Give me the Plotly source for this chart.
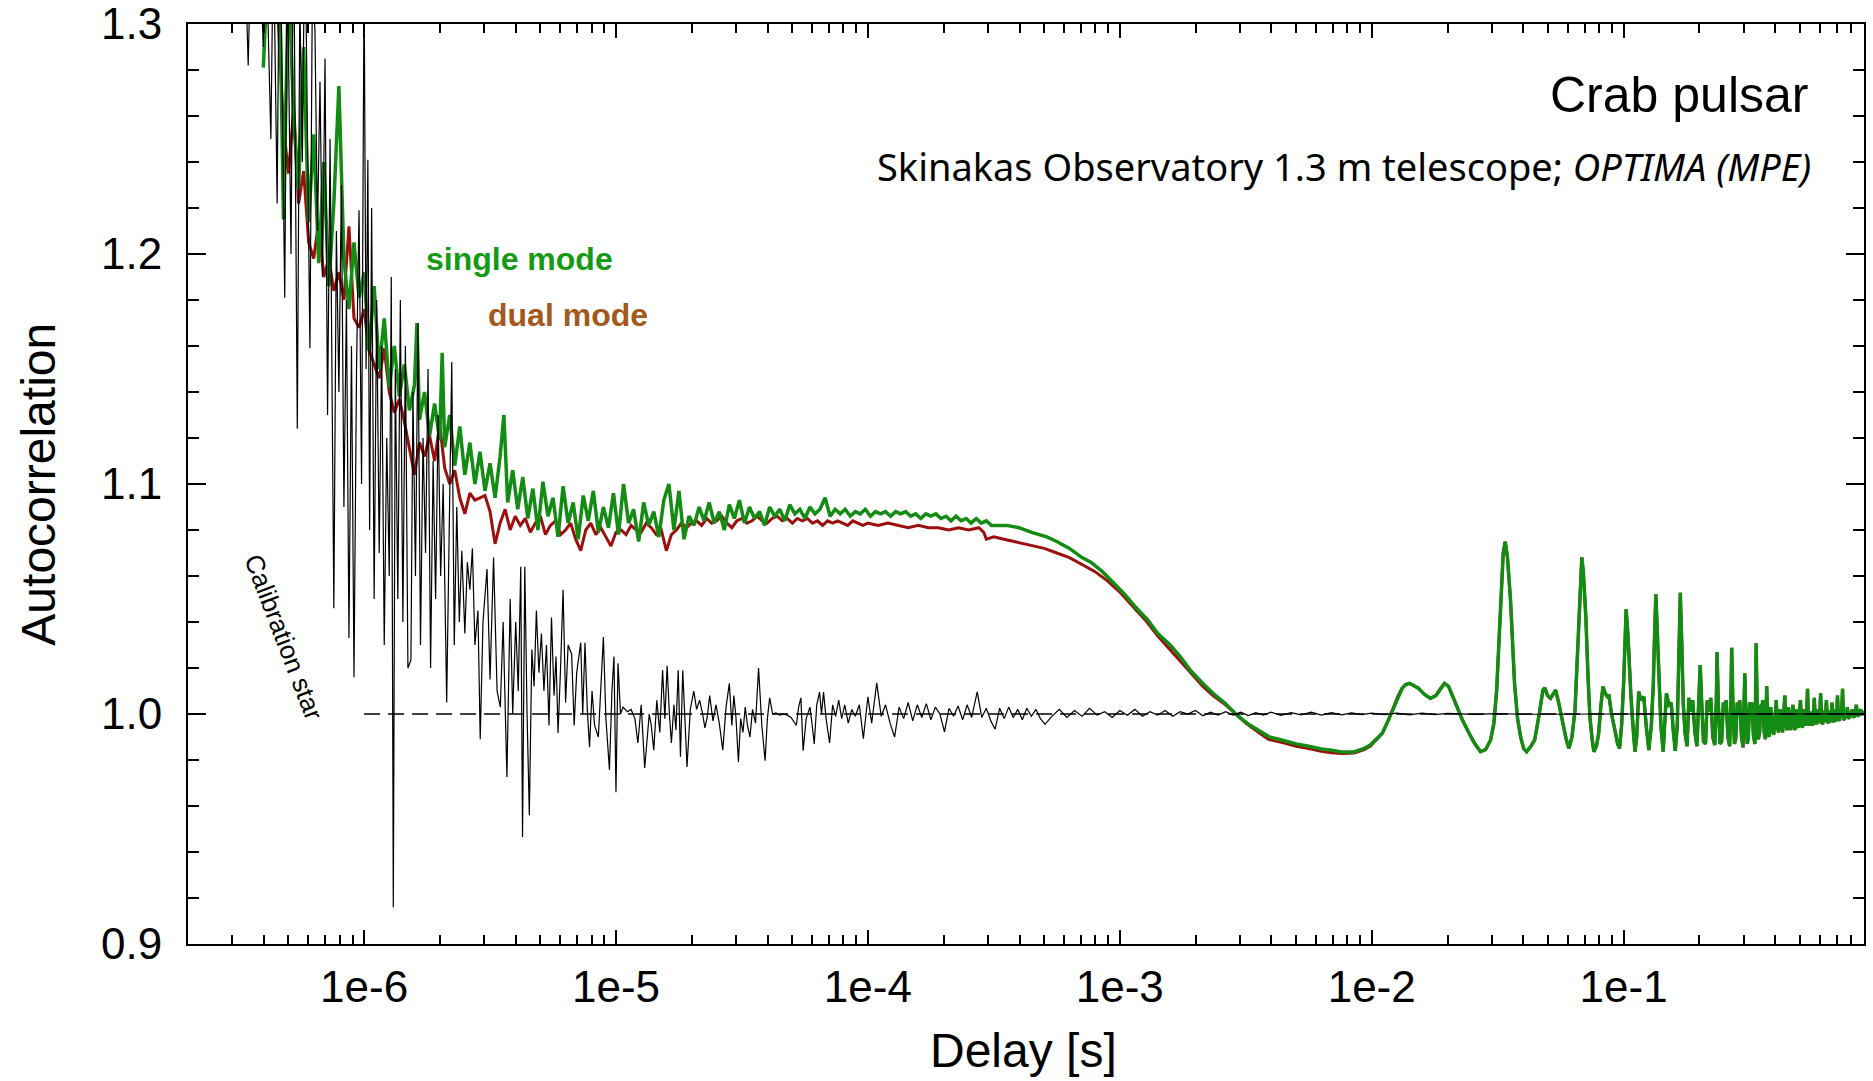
import math
import plotly.graph_objects as go

# ---------------- data: (log10 delay [s], autocorrelation) ----------------
CALIBRATION_STAR = [
    (-6.470, 1.320), (-6.460, 1.282), (-6.450, 1.330), (-6.420, 1.350), (-6.400, 1.290), (-6.390, 1.340),
    (-6.370, 1.250), (-6.360, 1.340), (-6.345, 1.222), (-6.335, 1.360), (-6.315, 1.181), (-6.305, 1.330),
    (-6.290, 1.200), (-6.280, 1.350), (-6.265, 1.124), (-6.255, 1.310), (-6.245, 1.240), (-6.235, 1.350),
    (-6.215, 1.159), (-6.205, 1.320), (-6.195, 1.297), (-6.185, 1.210), (-6.175, 1.275), (-6.165, 1.190),
    (-6.155, 1.285), (-6.145, 1.130), (-6.135, 1.250), (-6.120, 1.046), (-6.110, 1.210), (-6.100, 1.140),
    (-6.090, 1.230), (-6.080, 1.090), (-6.070, 1.180), (-6.060, 1.033), (-6.050, 1.160), (-6.040, 1.016),
    (-6.030, 1.150), (-6.020, 1.219), (-6.010, 1.100), (-6.000, 1.320), (-5.992, 1.150), (-5.985, 1.241),
    (-5.978, 1.080), (-5.970, 1.220), (-5.960, 1.050), (-5.950, 1.180), (-5.940, 1.070), (-5.930, 1.160),
    (-5.920, 1.030), (-5.910, 1.120), (-5.900, 1.060), (-5.892, 1.190), (-5.884, 0.916), (-5.876, 1.150),
    (-5.866, 1.050), (-5.856, 1.180), (-5.846, 1.040), (-5.836, 1.160), (-5.826, 1.020), (-5.814, 1.0235),
    (-5.806, 1.140), (-5.796, 1.060), (-5.786, 1.170), (-5.776, 1.030), (-5.766, 1.120), (-5.756, 1.070),
    (-5.746, 1.150), (-5.736, 1.020), (-5.726, 1.110), (-5.716, 1.050), (-5.706, 1.130), (-5.696, 1.060),
    (-5.686, 1.100), (-5.672, 1.005), (-5.662, 1.080), (-5.652, 1.153), (-5.642, 1.030), (-5.632, 1.090),
    (-5.622, 1.040), (-5.612, 1.071), (-5.600, 1.035), (-5.590, 1.066), (-5.580, 1.054), (-5.570, 1.072),
    (-5.560, 1.030), (-5.548, 1.045), (-5.539, 0.989), (-5.528, 1.040), (-5.512, 1.063), (-5.500, 1.015),
    (-5.486, 1.068), (-5.472, 1.010), (-5.459, 1.003), (-5.448, 1.040), (-5.433, 0.9726), (-5.420, 1.050),
    (-5.410, 1.000), (-5.398, 1.040), (-5.388, 1.010), (-5.378, 1.064), (-5.371, 0.9465), (-5.362, 1.064),
    (-5.353, 1.000), (-5.344, 0.956), (-5.334, 1.028), (-5.325, 1.012), (-5.316, 1.045), (-5.306, 1.018),
    (-5.296, 1.035), (-5.286, 1.010), (-5.276, 1.030), (-5.266, 0.995), (-5.256, 1.042), (-5.246, 1.008),
    (-5.238, 1.025), (-5.230, 0.9917), (-5.220, 1.020), (-5.210, 1.054), (-5.200, 1.005), (-5.190, 1.030),
    (-5.176, 1.026), (-5.166, 0.995), (-5.156, 1.018), (-5.140, 1.031), (-5.132, 1.000), (-5.123, 1.031),
    (-5.114, 1.002), (-5.105, 0.9856), (-5.095, 1.010), (-5.085, 0.995), (-5.070, 0.990), (-5.060, 1.015),
    (-5.050, 1.0335), (-5.040, 0.998), (-5.026, 0.9757), (-5.016, 1.010), (-5.008, 1.025), (-5.000, 0.966),
    (-4.992, 1.022), (-4.982, 1.000), (-4.972, 1.003), (-4.955, 1.001), (-4.940, 1.002), (-4.925, 0.998),
    (-4.913, 0.9874), (-4.900, 1.004), (-4.886, 0.9765), (-4.868, 1.000), (-4.860, 0.995), (-4.850, 0.9843),
    (-4.838, 1.006), (-4.826, 0.992), (-4.815, 1.0191), (-4.806, 0.998), (-4.797, 1.021), (-4.788, 1.000),
    (-4.780, 0.9874), (-4.770, 1.004), (-4.762, 0.993), (-4.753, 1.019), (-4.744, 0.9814), (-4.735, 1.019),
    (-4.727, 0.995), (-4.718, 0.977), (-4.705, 1.002), (-4.691, 1.010), (-4.680, 1.002), (-4.668, 1.006),
    (-4.656, 1.000), (-4.647, 0.994), (-4.638, 0.9985), (-4.628, 1.008), (-4.615, 0.997), (-4.603, 1.004),
    (-4.590, 0.996), (-4.576, 0.9843), (-4.563, 1.003), (-4.550, 1.0133), (-4.540, 0.995), (-4.532, 1.008),
    (-4.524, 0.999), (-4.514, 0.9791), (-4.505, 0.998), (-4.496, 0.992), (-4.487, 1.003), (-4.478, 0.995),
    (-4.468, 0.990), (-4.458, 1.002), (-4.446, 0.996), (-4.434, 1.020), (-4.421, 0.995), (-4.408, 0.9797),
    (-4.399, 0.998), (-4.390, 1.007), (-4.378, 1.000), (-4.365, 1.0005), (-4.350, 0.9995), (-4.335, 1.000),
    (-4.320, 0.9995), (-4.305, 0.9985), (-4.284, 0.995), (-4.275, 1.003), (-4.266, 1.007), (-4.257, 0.984),
    (-4.245, 0.998), (-4.230, 1.003), (-4.222, 0.996), (-4.213, 0.987), (-4.203, 1.004), (-4.192, 1.0095),
    (-4.184, 1.000), (-4.176, 1.0095), (-4.166, 0.998), (-4.152, 0.9874), (-4.140, 1.004), (-4.128, 0.999),
    (-4.116, 1.006), (-4.104, 0.998), (-4.092, 1.004), (-4.078, 0.996), (-4.064, 1.002), (-4.050, 0.999),
    (-4.034, 1.004), (-4.018, 0.9893), (-4.000, 1.0075), (-3.985, 0.9960), (-3.965, 1.0135), (-3.947, 0.9990),
    (-3.930, 1.0040), (-3.912, 0.9960), (-3.894, 0.9900), (-3.876, 1.0030), (-3.858, 0.9980), (-3.840, 1.0050),
    (-3.822, 0.9970), (-3.804, 1.0040), (-3.786, 0.9985), (-3.768, 1.0045), (-3.750, 0.9975), (-3.732, 1.0030),
    (-3.714, 1.0000), (-3.696, 0.9922), (-3.678, 1.0025), (-3.660, 0.9990), (-3.642, 1.0035), (-3.624, 0.9975),
    (-3.606, 1.0040), (-3.588, 0.9985), (-3.566, 1.0096), (-3.548, 0.9985), (-3.530, 1.0025), (-3.512, 0.9970),
    (-3.495, 0.9934), (-3.477, 1.0025), (-3.459, 0.9980), (-3.441, 1.0030), (-3.423, 0.9985), (-3.405, 1.0020),
    (-3.387, 0.9975), (-3.369, 1.0025), (-3.351, 0.9990), (-3.333, 1.0020), (-3.315, 0.9980), (-3.297, 0.9955),
    (-3.270, 0.9990), (-3.240, 1.0020), (-3.210, 0.9985), (-3.180, 1.0015), (-3.150, 0.9990), (-3.120, 1.0025),
    (-3.090, 0.9995), (-3.060, 1.0010), (-3.030, 0.9985), (-3.000, 1.0015), (-2.970, 0.9995), (-2.940, 1.0020),
    (-2.910, 0.9990), (-2.880, 1.0010), (-2.850, 0.9995), (-2.820, 1.0015), (-2.790, 0.9990), (-2.760, 1.0010),
    (-2.730, 1.0000), (-2.700, 1.0015), (-2.670, 0.9992), (-2.640, 1.0008), (-2.610, 0.9995), (-2.580, 1.0010),
    (-2.550, 0.9995), (-2.520, 1.0008), (-2.490, 0.9993), (-2.460, 1.0006), (-2.430, 0.9995), (-2.400, 1.0008),
    (-2.360, 0.9994), (-2.320, 1.0006), (-2.280, 0.9996), (-2.240, 1.0008), (-2.200, 0.9995), (-2.160, 1.0006),
    (-2.120, 0.9996), (-2.080, 1.0005), (-2.040, 0.9997), (-2.000, 1.0004), (-1.950, 0.9997), (-1.900, 1.0004),
    (-1.850, 0.9996), (-1.800, 1.0004), (-1.750, 0.9997), (-1.700, 1.0003), (-1.600, 0.9998), (-1.500, 1.0002),
    (-1.400, 0.9999), (-1.200, 1.0001), (-1.000, 1.0000), (-0.600, 1.0000), (-0.046, 1.0000),
]

SINGLE_MODE_EARLY = [
    (-6.400, 1.281), (-6.380, 1.330), (-6.360, 1.300), (-6.340, 1.350), (-6.320, 1.215), (-6.300, 1.320),
    (-6.280, 1.262), (-6.260, 1.228), (-6.240, 1.290), (-6.220, 1.214), (-6.200, 1.252), (-6.180, 1.196),
    (-6.160, 1.240), (-6.140, 1.186), (-6.120, 1.222), (-6.100, 1.273), (-6.080, 1.198), (-6.060, 1.176),
    (-6.040, 1.205), (-6.020, 1.181), (-6.000, 1.192), (-5.980, 1.158), (-5.960, 1.186), (-5.940, 1.150),
    (-5.920, 1.172), (-5.900, 1.142), (-5.880, 1.160), (-5.860, 1.138), (-5.840, 1.152), (-5.820, 1.132),
    (-5.800, 1.143), (-5.790, 1.170), (-5.780, 1.128), (-5.760, 1.140), (-5.740, 1.121), (-5.720, 1.135),
    (-5.700, 1.119), (-5.690, 1.157), (-5.680, 1.116), (-5.660, 1.130), (-5.640, 1.108), (-5.620, 1.125),
    (-5.600, 1.104), (-5.580, 1.118), (-5.560, 1.100), (-5.540, 1.114), (-5.520, 1.097), (-5.500, 1.109),
    (-5.480, 1.094), (-5.460, 1.112), (-5.445, 1.130), (-5.430, 1.092), (-5.410, 1.106), (-5.390, 1.089),
    (-5.370, 1.103), (-5.350, 1.085), (-5.330, 1.098), (-5.310, 1.080), (-5.290, 1.101), (-5.270, 1.086),
    (-5.250, 1.094), (-5.230, 1.077), (-5.210, 1.099), (-5.190, 1.083), (-5.170, 1.092), (-5.150, 1.076),
    (-5.130, 1.095), (-5.110, 1.084), (-5.090, 1.097), (-5.070, 1.079), (-5.050, 1.090), (-5.030, 1.081),
    (-5.010, 1.096), (-4.990, 1.078), (-4.970, 1.100), (-4.950, 1.083), (-4.930, 1.089), (-4.910, 1.075),
    (-4.890, 1.092), (-4.870, 1.082), (-4.850, 1.088), (-4.830, 1.077), (-4.810, 1.093), (-4.790, 1.100),
    (-4.770, 1.080), (-4.750, 1.097), (-4.730, 1.076), (-4.710, 1.086), (-4.690, 1.082), (-4.670, 1.090),
    (-4.650, 1.084), (-4.630, 1.092), (-4.610, 1.083), (-4.590, 1.088), (-4.570, 1.080), (-4.550, 1.091),
    (-4.530, 1.085), (-4.510, 1.093), (-4.490, 1.083), (-4.470, 1.090), (-4.450, 1.085), (-4.430, 1.088),
    (-4.410, 1.082), (-4.390, 1.090), (-4.370, 1.086), (-4.350, 1.089), (-4.330, 1.084), (-4.310, 1.091),
    (-4.290, 1.087), (-4.270, 1.089), (-4.250, 1.085), (-4.230, 1.090), (-4.210, 1.087), (-4.190, 1.089),
    (-4.170, 1.094), (-4.150, 1.086), (-4.130, 1.089), (-4.110, 1.087), (-4.090, 1.089), (-4.070, 1.086),
    (-4.050, 1.088), (-4.030, 1.087), (-4.010, 1.089), (-3.990, 1.086), (-3.970, 1.088), (-3.950, 1.087),
    (-3.930, 1.088), (-3.910, 1.086), (-3.890, 1.088), (-3.870, 1.087), (-3.850, 1.088), (-3.830, 1.086),
    (-3.810, 1.087), (-3.790, 1.085), (-3.770, 1.087), (-3.750, 1.086), (-3.730, 1.087), (-3.710, 1.085),
    (-3.690, 1.086), (-3.670, 1.084), (-3.650, 1.086), (-3.630, 1.084), (-3.610, 1.085), (-3.590, 1.083),
    (-3.570, 1.085), (-3.550, 1.083), (-3.530, 1.084), (-3.510, 1.082), (-3.450, 1.082), (-3.400, 1.081),
    (-3.350, 1.079), (-3.290, 1.077), (-3.250, 1.075), (-3.200, 1.072), (-3.150, 1.068), (-3.115, 1.066),
    (-3.070, 1.062), (-3.026, 1.057), (-2.980, 1.052), (-2.938, 1.0465), (-2.890, 1.041), (-2.849, 1.035),
    (-2.800, 1.030), (-2.760, 1.025), (-2.720, 1.019), (-2.672, 1.0135), (-2.630, 1.009), (-2.583, 1.0048),
    (-2.540, 1.000), (-2.495, 0.996), (-2.450, 0.993), (-2.406, 0.990), (-2.350, 0.9885), (-2.300, 0.987),
    (-2.250, 0.9860), (-2.200, 0.9848), (-2.160, 0.9843), (-2.120, 0.9835), (-2.070, 0.9835), (-2.030, 0.9850),
    (-2.006, 0.9865),
]

DUAL_MODE_EARLY = [
    (-6.400, 1.320), (-6.370, 1.340), (-6.340, 1.300), (-6.320, 1.255), (-6.300, 1.235), (-6.280, 1.262),
    (-6.260, 1.222), (-6.240, 1.236), (-6.220, 1.205), (-6.200, 1.198), (-6.180, 1.214), (-6.160, 1.190),
    (-6.140, 1.198), (-6.120, 1.184), (-6.100, 1.192), (-6.080, 1.180), (-6.060, 1.212), (-6.040, 1.172),
    (-6.020, 1.168), (-6.000, 1.176), (-5.980, 1.158), (-5.960, 1.152), (-5.940, 1.146), (-5.920, 1.159),
    (-5.900, 1.140), (-5.880, 1.131), (-5.860, 1.137), (-5.840, 1.127), (-5.820, 1.115), (-5.800, 1.104),
    (-5.780, 1.118), (-5.760, 1.112), (-5.740, 1.121), (-5.720, 1.110), (-5.700, 1.126), (-5.680, 1.107),
    (-5.660, 1.100), (-5.640, 1.106), (-5.620, 1.094), (-5.600, 1.087), (-5.580, 1.096), (-5.560, 1.093),
    (-5.540, 1.094), (-5.520, 1.095), (-5.500, 1.088), (-5.480, 1.074), (-5.460, 1.083), (-5.440, 1.089),
    (-5.420, 1.080), (-5.400, 1.086), (-5.380, 1.082), (-5.360, 1.085), (-5.340, 1.079), (-5.320, 1.083),
    (-5.300, 1.086), (-5.280, 1.078), (-5.260, 1.082), (-5.240, 1.084), (-5.220, 1.078), (-5.200, 1.080),
    (-5.180, 1.083), (-5.160, 1.076), (-5.140, 1.071), (-5.120, 1.080), (-5.100, 1.083), (-5.080, 1.078),
    (-5.060, 1.081), (-5.040, 1.077), (-5.020, 1.073), (-5.000, 1.079), (-4.980, 1.080), (-4.960, 1.078),
    (-4.940, 1.082), (-4.920, 1.080), (-4.900, 1.079), (-4.880, 1.083), (-4.860, 1.081), (-4.840, 1.078),
    (-4.820, 1.080), (-4.800, 1.071), (-4.780, 1.078), (-4.760, 1.080), (-4.740, 1.083), (-4.720, 1.081),
    (-4.700, 1.083), (-4.680, 1.084), (-4.660, 1.082), (-4.640, 1.085), (-4.620, 1.083), (-4.600, 1.084),
    (-4.580, 1.086), (-4.560, 1.083), (-4.540, 1.081), (-4.520, 1.084), (-4.500, 1.085), (-4.480, 1.083),
    (-4.460, 1.084), (-4.440, 1.086), (-4.420, 1.084), (-4.400, 1.083), (-4.380, 1.085), (-4.360, 1.086),
    (-4.340, 1.084), (-4.320, 1.085), (-4.300, 1.083), (-4.280, 1.085), (-4.260, 1.084), (-4.240, 1.085),
    (-4.220, 1.083), (-4.200, 1.084), (-4.180, 1.082), (-4.160, 1.084), (-4.140, 1.083), (-4.120, 1.084),
    (-4.100, 1.083), (-4.080, 1.082), (-4.060, 1.084), (-4.040, 1.083), (-4.020, 1.082), (-4.000, 1.083),
    (-3.960, 1.082), (-3.920, 1.083), (-3.880, 1.082), (-3.840, 1.081), (-3.800, 1.082), (-3.760, 1.081),
    (-3.720, 1.081), (-3.680, 1.080), (-3.640, 1.081), (-3.600, 1.080), (-3.560, 1.081), (-3.540, 1.079),
    (-3.530, 1.076), (-3.500, 1.077), (-3.460, 1.076), (-3.420, 1.075), (-3.380, 1.074), (-3.340, 1.073),
    (-3.300, 1.072), (-3.250, 1.070), (-3.200, 1.068), (-3.150, 1.065), (-3.100, 1.062), (-3.050, 1.058),
    (-3.000, 1.053), (-2.950, 1.047), (-2.900, 1.041), (-2.850, 1.034), (-2.800, 1.028), (-2.760, 1.023),
    (-2.720, 1.018), (-2.670, 1.012), (-2.630, 1.008), (-2.580, 1.004), (-2.540, 1.000), (-2.500, 0.996),
    (-2.450, 0.992), (-2.410, 0.989), (-2.350, 0.9875), (-2.300, 0.9860), (-2.250, 0.9850), (-2.200, 0.9838),
    (-2.160, 0.9832), (-2.120, 0.9828), (-2.070, 0.9830), (-2.030, 0.9845), (-2.006, 0.9860),
]

# beyond ~1e-2 s both modes coincide (pulse-period structure)
PULSAR_TAIL = [
    (-1.980, 0.9890), (-1.958, 0.9916), (-1.935, 0.9970), (-1.911, 1.0032), (-1.895, 1.0080), (-1.879, 1.0112),
    (-1.865, 1.0128), (-1.850, 1.0133), (-1.835, 1.0125), (-1.815, 1.0112), (-1.790, 1.0085), (-1.767, 1.0068),
    (-1.745, 1.0080), (-1.725, 1.0115), (-1.711, 1.0133), (-1.695, 1.0120), (-1.672, 1.0061), (-1.655, 1.0010),
    (-1.640, 0.9974), (-1.615, 0.9920), (-1.592, 0.9873), (-1.568, 0.9836), (-1.548, 0.9845), (-1.528, 0.9887),
    (-1.515, 0.9960), (-1.504, 1.0104), (-1.495, 1.0300), (-1.488, 1.0496), (-1.478, 1.0700), (-1.470, 1.0749),
    (-1.461, 1.0680), (-1.449, 1.0496), (-1.440, 1.0300), (-1.433, 1.0133), (-1.421, 0.9980), (-1.409, 0.9901),
    (-1.397, 0.9850), (-1.385, 0.9836), (-1.368, 0.9860), (-1.353, 0.9887), (-1.335, 1.0000), (-1.320, 1.0105),
    (-1.313, 1.0114), (-1.302, 1.0080), (-1.290, 1.0068), (-1.278, 1.0090), (-1.270, 1.0104), (-1.258, 1.0050),
    (-1.241, 0.9960), (-1.228, 0.9890), (-1.217, 0.9851), (-1.205, 0.9900), (-1.193, 1.0017), (-1.183, 1.0250),
    (-1.177, 1.0423), (-1.170, 1.0620), (-1.166, 1.0681), (-1.160, 1.0620), (-1.150, 1.0423), (-1.142, 1.0180),
    (-1.134, 0.9988), (-1.125, 0.9890), (-1.118, 0.9836), (-1.108, 0.9860), (-1.099, 0.9916), (-1.090, 1.0040),
    (-1.082, 1.0119), (-1.073, 1.0090), (-1.064, 1.0075), (-1.058, 1.0078), (-1.048, 1.0000), (-1.032, 0.9916),
    (-1.024, 0.9870), (-1.016, 0.9851), (-1.008, 0.9950), (-1.000, 1.0133), (-0.994, 1.0350), (-0.990, 1.0455),
    (-0.985, 1.0380), (-0.979, 1.0278), (-0.972, 1.0100), (-0.966, 0.9988), (-0.955, 0.9836), (-0.948, 0.9900),
    (-0.940, 1.0097), (-0.932, 1.0060), (-0.920, 1.0075), (-0.910, 0.9945), (-0.900, 0.9843), (-0.890, 0.9950),
    (-0.882, 1.0133), (-0.877, 1.0350), (-0.872, 1.0520), (-0.866, 1.0350), (-0.860, 1.0133), (-0.852, 0.9950),
    (-0.843, 0.9836), (-0.836, 0.9950), (-0.830, 1.0090), (-0.820, 1.0040), (-0.811, 1.0048), (-0.803, 0.9930),
    (-0.795, 0.9840), (-0.787, 0.9950), (-0.781, 1.0300), (-0.775, 1.0527), (-0.769, 1.0300), (-0.763, 1.0040),
    (-0.756, 0.9916), (-0.748, 0.9860), (-0.741, 1.0070), (-0.734, 1.0010), (-0.726, 1.0060), (-0.717, 0.9920),
    (-0.709, 0.9860), (-0.701, 1.0050), (-0.696, 1.0213), (-0.690, 1.0050), (-0.683, 0.9880), (-0.675, 0.9870),
    (-0.668, 1.0060), (-0.661, 1.0010), (-0.654, 1.0070), (-0.646, 0.9900), (-0.638, 0.9865), (-0.632, 1.0060),
    (-0.629, 1.0268), (-0.624, 1.0040), (-0.617, 0.9870), (-0.611, 0.9880), (-0.604, 1.0050), (-0.599, 1.0000),
    (-0.593, 1.0060), (-0.586, 0.9900), (-0.579, 0.9860), (-0.574, 1.0070), (-0.571, 1.0288), (-0.566, 1.0040),
    (-0.560, 0.9870), (-0.555, 0.9890), (-0.549, 1.0050), (-0.544, 1.0000), (-0.539, 1.0060), (-0.532, 0.9900),
    (-0.526, 0.9855), (-0.522, 1.0040), (-0.519, 1.0177), (-0.515, 1.0010), (-0.509, 0.9870), (-0.505, 0.9900),
    (-0.500, 1.0050), (-0.496, 1.0010), (-0.491, 1.0050), (-0.485, 0.9910), (-0.479, 0.9870), (-0.476, 1.0080),
    (-0.474, 1.0308), (-0.470, 1.0050), (-0.465, 0.9890), (-0.460, 0.9920), (-0.456, 1.0040), (-0.452, 1.0010),
    (-0.448, 1.0060), (-0.442, 0.9920), (-0.437, 0.9890), (-0.432, 1.0120), (-0.428, 0.9960), (-0.422, 0.9900),
    (-0.416, 1.0030), (-0.410, 0.9930), (-0.404, 0.9910), (-0.398, 1.0000), (-0.394, 1.0060), (-0.390, 0.9950),
    (-0.385, 0.9920), (-0.379, 1.0020), (-0.373, 0.9940), (-0.369, 0.9920), (-0.364, 1.0010), (-0.360, 1.0080),
    (-0.356, 0.9950), (-0.351, 0.9930), (-0.346, 1.0030), (-0.341, 0.9950), (-0.337, 0.9930), (-0.332, 0.9990),
    (-0.328, 1.0040), (-0.324, 0.9960), (-0.320, 0.9930), (-0.315, 1.0020), (-0.311, 0.9960), (-0.306, 0.9940),
    (-0.302, 1.0000), (-0.298, 1.0060), (-0.294, 0.9960), (-0.290, 0.9940), (-0.285, 1.0020), (-0.281, 0.9960),
    (-0.277, 0.9950), (-0.273, 1.0010), (-0.270, 1.0110), (-0.266, 0.9970), (-0.262, 0.9950), (-0.258, 1.0010),
    (-0.254, 0.9960), (-0.250, 0.9950), (-0.246, 1.0010), (-0.243, 1.0070), (-0.239, 0.9970), (-0.235, 0.9955),
    (-0.231, 1.0020), (-0.227, 0.9970), (-0.224, 0.9960), (-0.221, 1.0010), (-0.218, 1.0090), (-0.214, 0.9970),
    (-0.210, 0.9955), (-0.206, 1.0015), (-0.202, 0.9975), (-0.199, 0.9965), (-0.195, 1.0060), (-0.191, 0.9970),
    (-0.187, 0.9960), (-0.184, 1.0015), (-0.180, 0.9975), (-0.176, 0.9965), (-0.173, 1.0050), (-0.169, 0.9975),
    (-0.165, 0.9965), (-0.161, 1.0020), (-0.158, 0.9975), (-0.155, 0.9970), (-0.151, 1.0080), (-0.147, 0.9980),
    (-0.143, 0.9970), (-0.139, 1.0020), (-0.135, 0.9985), (-0.131, 1.0110), (-0.127, 0.9980), (-0.123, 0.9975),
    (-0.119, 1.0015), (-0.115, 0.9985), (-0.112, 1.0030), (-0.108, 0.9985), (-0.104, 0.9980), (-0.100, 1.0010),
    (-0.096, 0.9990), (-0.093, 1.0020), (-0.089, 0.9990), (-0.085, 0.9985), (-0.080, 1.0010), (-0.076, 1.0040),
    (-0.072, 0.9995), (-0.068, 0.9990), (-0.064, 1.0010), (-0.059, 1.0020), (-0.055, 0.9995), (-0.050, 1.0005),
    (-0.046, 1.0000),
]

REF_DELAY = [1e-6, 0.9]
REF_LEVEL = [1.0, 1.0]

X_TICK_VALS = [1e-6, 1e-5, 1e-4, 1e-3, 1e-2, 1e-1]
X_TICK_TEXT = ["1e-6", "1e-5", "1e-4", "1e-3", "1e-2", "1e-1"]
Y_TICK_VALS = [0.9, 1.0, 1.1, 1.2, 1.3]
Y_TICK_TEXT = ["0.9", "1.0", "1.1", "1.2", "1.3"]
X_RANGE = [2e-7, 0.9]
Y_RANGE = [0.9, 1.3]


def unpack(pairs):
    return [10 ** p[0] for p in pairs], [p[1] for p in pairs]


FONT = "Liberation Sans, Arial, Helvetica, sans-serif"
GREEN = "#128c12"
RED = "#9c0f0f"

single_x, single_y = unpack(SINGLE_MODE_EARLY + PULSAR_TAIL)
dual_x, dual_y = unpack(DUAL_MODE_EARLY + PULSAR_TAIL)
cal_x, cal_y = unpack(CALIBRATION_STAR)

fig = go.Figure()
fig.add_trace(go.Scatter(x=dual_x, y=dual_y, mode="lines", line=dict(color=RED, width=3), name="dual mode"))
fig.add_trace(go.Scatter(x=single_x, y=single_y, mode="lines", line=dict(color=GREEN, width=3.5), name="single mode"))
fig.add_trace(go.Scatter(x=REF_DELAY, y=REF_LEVEL, mode="lines",
                         line=dict(color="black", width=1.3, dash="16px,8px"), name="1.0"))
fig.add_trace(go.Scatter(x=cal_x, y=cal_y, mode="lines", line=dict(color="black", width=1.2), name="Calibration star"))

minor_x = [k * 10 ** e for e in range(-7, 0) for k in range(2, 10)]

fig.update_layout(
    width=1873, height=1081,
    margin=dict(l=188, r=9, t=24, b=137),
    plot_bgcolor="white", paper_bgcolor="white",
    showlegend=False,
    font=dict(family=FONT, color="black"),
    xaxis=dict(
        type="log", range=[math.log10(X_RANGE[0]), math.log10(X_RANGE[1])],
        automargin=False,
        showline=True, linecolor="black", linewidth=2, mirror="ticks",
        ticks="inside", ticklen=14, tickwidth=1.5, tickcolor="black",
        tickmode="array", tickvals=X_TICK_VALS, ticktext=X_TICK_TEXT,
        tickfont=dict(family=FONT, size=44, color="black"),
        ticklabelstandoff=3, ticklabeloverflow="allow",
        showgrid=False, zeroline=False,
        minor=dict(ticks="inside", ticklen=9, tickwidth=1.5, tickcolor="black",
                   tickmode="array", tickvals=minor_x, showgrid=False),
    ),
    yaxis=dict(
        range=[Y_RANGE[0], Y_RANGE[1] + 1e-6],
        automargin=False,
        showline=True, linecolor="black", linewidth=2, mirror="ticks",
        ticks="inside", ticklen=18, tickwidth=1.5, tickcolor="black",
        tickmode="array", tickvals=Y_TICK_VALS, ticktext=Y_TICK_TEXT,
        tickfont=dict(family=FONT, size=44, color="black"),
        ticklabelstandoff=15, ticklabeloverflow="allow",
        showgrid=False, zeroline=False,
        minor=dict(ticks="inside", ticklen=11, tickwidth=1.5, tickcolor="black",
                   dtick=0.02, showgrid=False),
    ),
)

annotations = [
    dict(text="Autocorrelation", x=-0.0897, y=0.5, xref="paper", yref="paper",
         textangle=-90, showarrow=False, font=dict(family=FONT, size=48, color="black"),
         xanchor="center", yanchor="middle"),
    dict(text="Delay [s]", x=0.4988, y=-0.116, xref="paper", yref="paper",
         showarrow=False, font=dict(family=FONT, size=48, color="black"),
         xanchor="center", yanchor="middle"),
    dict(text="Crab pulsar", x=0.9675, y=0.9225, xref="paper", yref="paper",
         showarrow=False, font=dict(family=FONT, size=50, color="black"),
         xanchor="right", yanchor="middle"),
    dict(text="Skinakas Observatory 1.3 m telescope; <i>OPTIMA (MPE)</i>", x=0.9693, y=0.846,
         xref="paper", yref="paper", showarrow=False,
         font=dict(family="Comic Sans MS, Noto Sans, sans-serif", size=38, color="black"),
         xanchor="right", yanchor="middle"),
    dict(text="<b>single mode</b>", x=0.141, y=0.7442, xref="paper", yref="paper",
         showarrow=False, font=dict(family=FONT, size=32, color="#159a15"),
         xanchor="left", yanchor="middle"),
    dict(text="<b>dual mode</b>", x=0.178, y=0.6834, xref="paper", yref="paper",
         showarrow=False, font=dict(family=FONT, size=32, color="#a3581c"),
         xanchor="left", yanchor="middle"),
    dict(text="Calibration star", x=0.057, y=0.3334, xref="paper", yref="paper",
         textangle=69, showarrow=False, font=dict(family=FONT, size=26, color="black"),
         xanchor="center", yanchor="middle"),
]
fig.update_layout(annotations=annotations)

fig.write_html("out.html", config={"displayModeBar": False},
               post_script="document.body.style.margin='0px';document.body.style.overflow='hidden';")
